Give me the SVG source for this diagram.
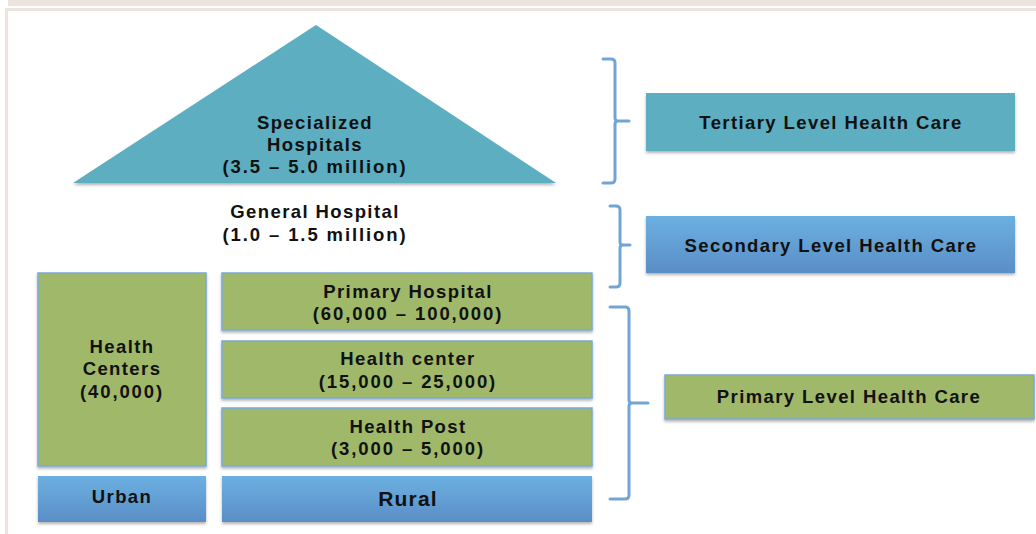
<svg xmlns="http://www.w3.org/2000/svg" width="1036" height="534" viewBox="0 0 1036 534">
<defs>
<linearGradient id="blueGrad" x1="0" y1="0" x2="0" y2="1">
<stop offset="0" stop-color="#6cb0e2"/>
<stop offset="1" stop-color="#5a8ec6"/>
</linearGradient>
<filter id="sh" x="-5%" y="-5%" width="110%" height="130%">
<feDropShadow dx="0" dy="2" stdDeviation="1.5" flood-color="#000" flood-opacity="0.3"/>
</filter>
</defs>
<style>
text{font-family:"Liberation Sans",Arial,sans-serif;font-weight:bold;fill:#111;text-anchor:middle}
.t{font-size:18.5px;letter-spacing:1.4px}
.n{font-size:18.5px;letter-spacing:1.9px}
.green{fill:#a0b86a;stroke:#7aa8d8;stroke-width:1.5}
.blue{fill:url(#blueGrad)}
.teal{fill:#5caec0}
.brace{fill:none;stroke:#72a5d6;stroke-width:3;stroke-linejoin:round;stroke-linecap:round}
</style>
<rect x="0" y="0" width="1036" height="534" fill="#fff"/>
<rect x="8" y="0" width="1028" height="6" fill="#ece3de"/>
<path d="M6.5 534 V9.5 H1036" fill="none" stroke="#ede3df" stroke-width="3"/>

<g id="specialized">
<polygon points="316,25 556,183 73,183" class="teal" filter="url(#sh)"/>
<text class="t" x="315" y="129">Specialized</text>
<text class="t" x="315" y="151">Hospitals</text>
<text class="n" x="315" y="173">(3.5 – 5.0 million)</text>
</g>
<g id="general">
<text class="t" x="315" y="218">General Hospital</text>
<text class="n" x="315" y="241">(1.0 – 1.5 million)</text>
</g>
<g id="health-centers">
<rect x="38" y="273" width="168" height="193" class="green" filter="url(#sh)"/>
<text class="t" x="122" y="353">Health</text>
<text class="t" x="122" y="375">Centers</text>
<text class="n" x="122" y="398">(40,000)</text>
</g>
<g id="primary-hospital">
<rect x="222" y="273" width="370" height="57" class="green" filter="url(#sh)"/>
<text class="t" x="408" y="298">Primary Hospital</text>
<text class="n" x="408" y="320">(60,000 – 100,000)</text>
</g>
<g id="health-center">
<rect x="222" y="341" width="370" height="57" class="green" filter="url(#sh)"/>
<text class="t" x="408" y="365">Health center</text>
<text class="n" x="408" y="388">(15,000 – 25,000)</text>
</g>
<g id="health-post">
<rect x="222" y="408" width="370" height="58" class="green" filter="url(#sh)"/>
<text class="t" x="408" y="433">Health Post</text>
<text class="n" x="408" y="455">(3,000 – 5,000)</text>
</g>
<g id="urban">
<rect x="38" y="476" width="168" height="46" class="blue" filter="url(#sh)"/>
<text class="t" x="122" y="503">Urban</text>
</g>
<g id="rural">
<rect x="222" y="476" width="370" height="46" class="blue" filter="url(#sh)"/>
<text x="408" y="506" font-size="21" letter-spacing="1.2">Rural</text>
</g>
<g id="tertiary">
<rect x="646" y="93" width="369" height="58" class="teal" filter="url(#sh)"/>
<text class="t" x="831" y="129">Tertiary Level Health Care</text>
</g>
<g id="secondary">
<rect x="646" y="216" width="369" height="57" class="blue" filter="url(#sh)"/>
<text class="t" x="831" y="252">Secondary Level Health Care</text>
</g>
<g id="primary-level">
<rect x="665" y="375" width="369" height="44" class="green" filter="url(#sh)"/>
<text class="t" x="849" y="403">Primary Level Health Care</text>
</g>
<g id="connectors">
<path class="brace" d="M603 59 H611 Q615 59 615 63 V118 Q615 121 618 121 H629 M618 121 Q615 121 615 124 V179 Q615 183 611 183 H603"/>
<path class="brace" d="M610 206 H616 Q620 206 620 210 V242 Q620 245 623 245 H630 M623 245 Q620 245 620 248 V283 Q620 287 616 287 H610"/>
<path class="brace" d="M610 307 H625 Q629 307 629 311 V400 Q629 403 632 403 H648 M632 403 Q629 403 629 406 V495 Q629 499 625 499 H610"/>
</g>
</svg>
